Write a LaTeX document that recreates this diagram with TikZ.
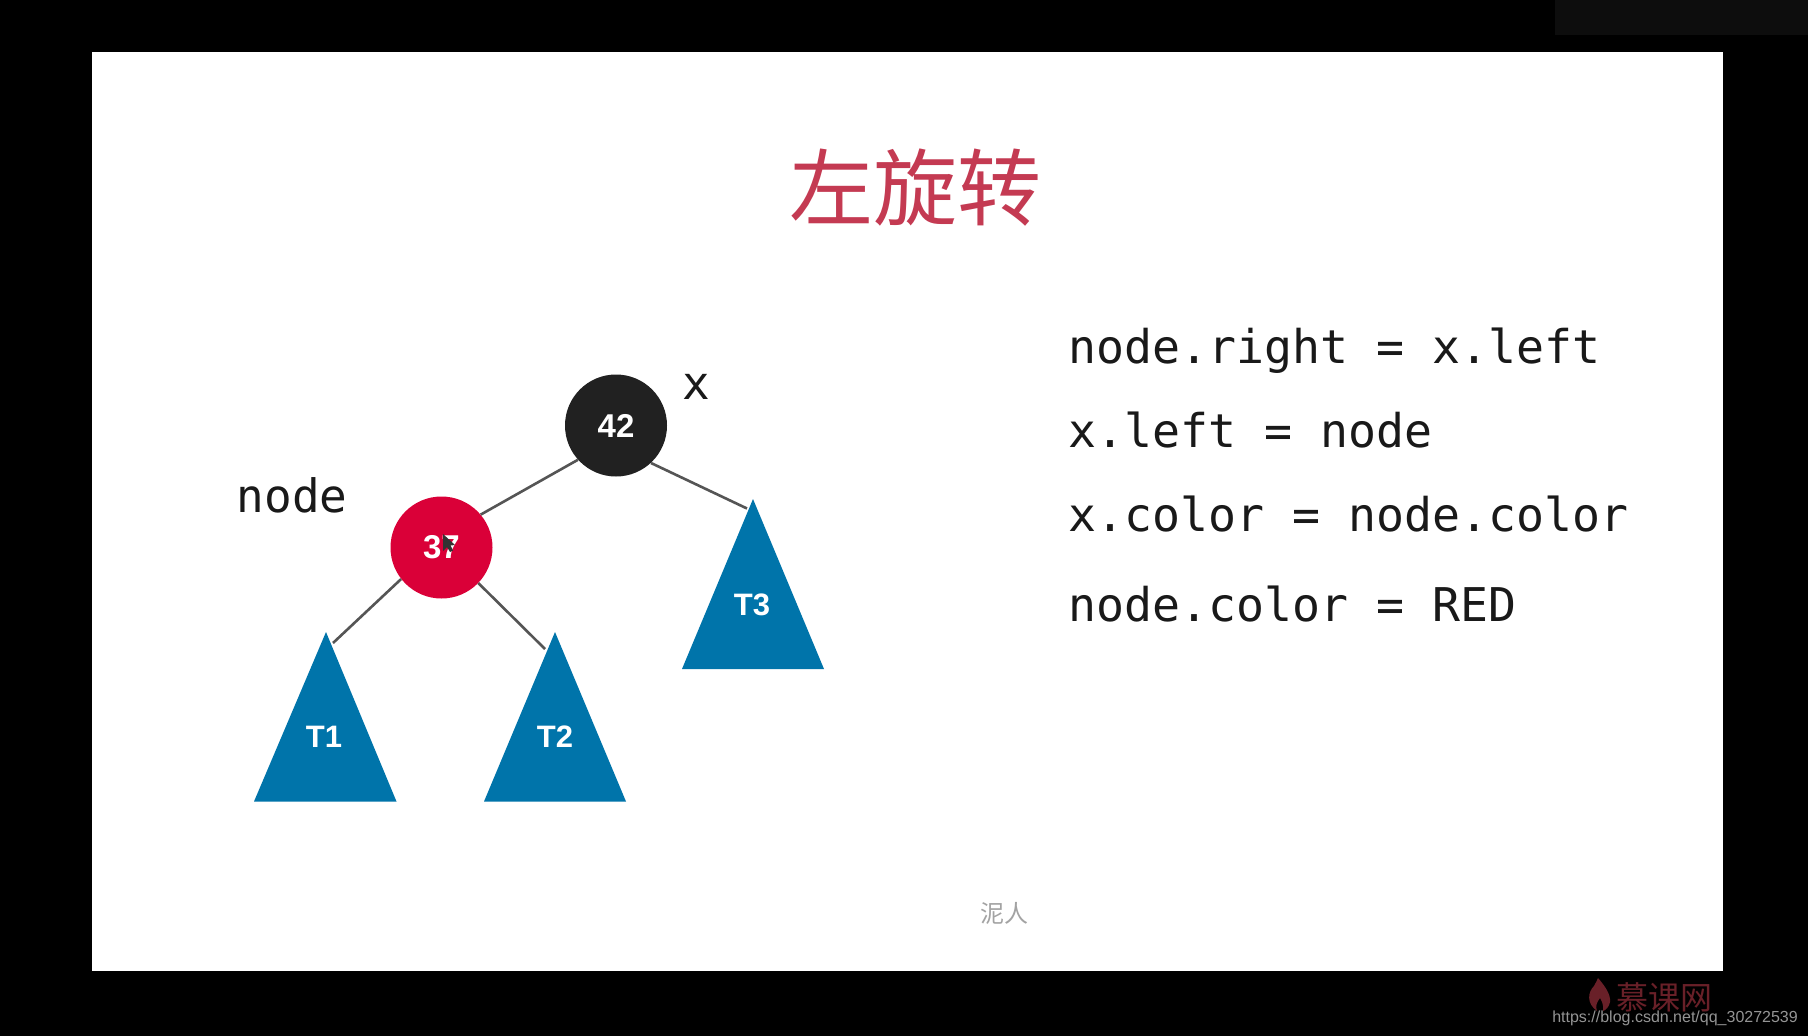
\documentclass[tikz,border=0pt]{standalone}
\usepackage{fontspec}
\setmainfont{Liberation Sans}
\newfontfamily\cjkfont{Noto Sans CJK SC}
\newfontfamily\codefont{DejaVu Sans Mono}
\definecolor{titlered}{RGB}{196,58,82}
\definecolor{nodered}{RGB}{218,0,56}
\definecolor{nodeblack}{RGB}{33,33,33}
\definecolor{treeblue}{RGB}{0,116,170}
\definecolor{edgegray}{RGB}{85,85,85}
\definecolor{brandred}{RGB}{105,32,40}
\definecolor{topband}{RGB}{13,13,13}
\tikzset{
  x=1pt,y=-1pt,
  treenode/.style={circle,minimum size=102pt,inner sep=0pt,text=white,font=\fontsize{33}{36}\selectfont\bfseries},
  subtree/.style={fill=treeblue,draw=none},
  treelabel/.style={text=white,inner sep=0pt,font=\fontsize{31}{34}\selectfont\bfseries},
  treeedge/.style={draw=edgegray,line width=2.6pt},
  codeline/.style={anchor=base west,inner sep=0pt,text=black!90,font=\codefont\fontsize{46.5}{50}\selectfont},
  sidelabel/.style={anchor=base west,inner sep=0pt,text=black!90,font=\codefont\fontsize{46}{50}\selectfont},
}
\begin{document}
\begin{tikzpicture}
\useasboundingbox (0,0) rectangle (1808,1036);
\fill[black] (0,0) rectangle (1808,1036);
\fill[white] (92,52) rectangle (1723,971);
\fill[topband] (1555,0) rectangle (1808,35);
% title
\node[inner sep=0pt,text=titlered,font=\cjkfont\fontsize{84}{90}\selectfont] (title) at (915,188) {左旋转};
% tree anchor points
\coordinate (t3top) at (747,508.5);
\coordinate (t1top) at (333,643);
\coordinate (t2top) at (545,649);
% nodes
\node[treenode,fill=nodeblack] (n42) at (616,425.5) {42};
\node[treenode,fill=nodered] (n37) at (441.5,547.5) {37};
% connectors
\draw[treeedge] (n42.222) -- (n37.40);
\draw[treeedge] (n42.-47) -- (t3top);
\draw[treeedge] (n37.218) -- (t1top);
\draw[treeedge] (n37.-44) -- (t2top);
% subtrees
\fill[subtree] (753,499) -- (824,669) -- (682,669) -- cycle;
\fill[subtree] (326,632) -- (396.5,801.5) -- (254,801.5) -- cycle;
\fill[subtree] (555,632) -- (626,801.5) -- (484,801.5) -- cycle;
\node[treelabel] (T3) at (752,604.5) {T3};
\node[treelabel] (T1) at (324,737) {T1};
\node[treelabel] (T2) at (555,737) {T2};
% cursor
\fill[black!80] (443,534) -- (443,551) -- (447,547) -- (450,552) -- (453,550.5) -- (450.5,545.5) -- (455,545) -- cycle;
% labels
\node[sidelabel] (xlabel) at (682,399.5) {x};
\node[sidelabel] (nodelabel) at (236.5,512) {node};
% code
\node[codeline] (c1) at (1068,363) {node.right = x.left};
\node[codeline] (c2) at (1068,447) {x.left = node};
\node[codeline] (c3) at (1068,531) {x.color = node.color};
\node[codeline] (c4) at (1068,621) {node.color = RED};
% watermarks
\node[inner sep=0pt,text=black!36,font=\cjkfont\fontsize{24}{26}\selectfont] (wm) at (1004,913) {泥人};
\fill[brandred] (1597,1011) .. controls (1586,1003) and (1588,992) .. (1594,986) .. controls (1596,982) and (1597,981) .. (1598,978) .. controls (1604,985) and (1611,994) .. (1610,1002) .. controls (1609,1007) and (1606,1010) .. (1603,1011) .. controls (1604,1004) and (1601,1000) .. (1600,998) .. controls (1597,1002) and (1595,1006) .. (1597,1011) -- cycle;
\node[anchor=west,inner sep=0pt,text=brandred,font=\cjkfont\fontsize{32}{34}\selectfont] (brand) at (1616,997) {慕课网};
\node[anchor=base east,inner sep=0pt,text=black!42,font=\fontsize{16}{20}\selectfont] (url) at (1798,1022) {https://blog.csdn.net/qq\_30272539};
\end{tikzpicture}
\end{document}
